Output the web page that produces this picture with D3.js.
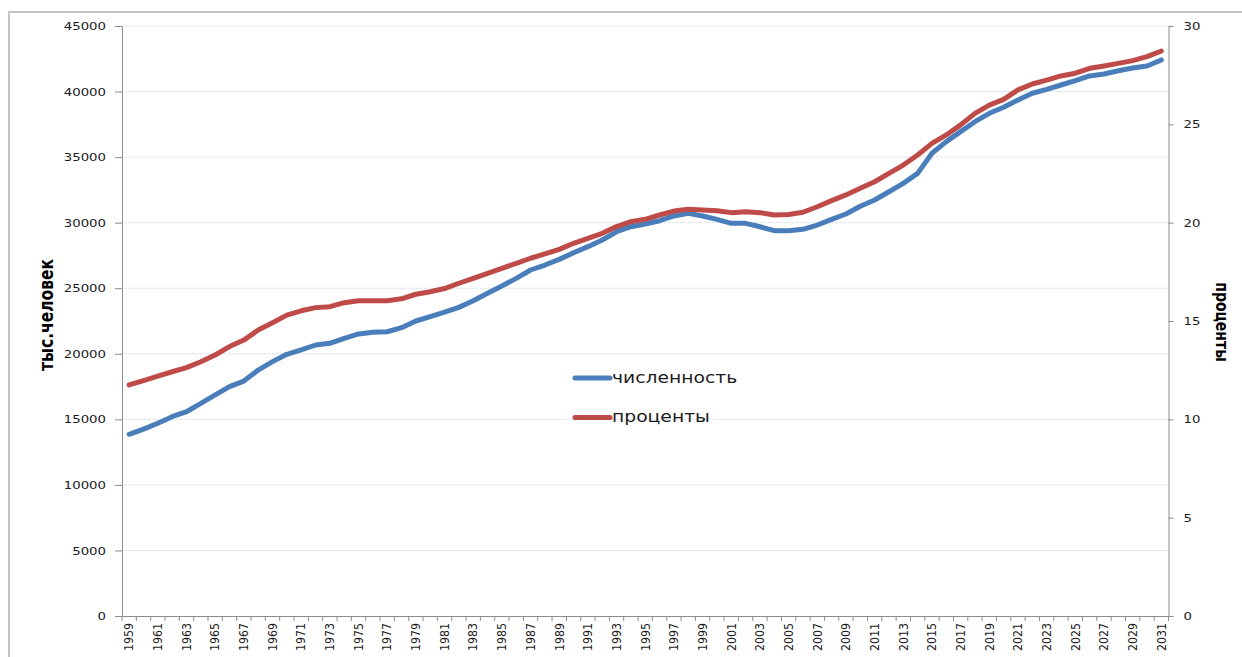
<!DOCTYPE html>
<html>
<head>
<meta charset="utf-8">
<script src="https://cdn.jsdelivr.net/npm/d3@7/dist/d3.min.js"></script>
<style>
  html, body { margin: 0; padding: 0; background: #fff; }
  svg { display: block; }
</style>
</head>
<body>
<script>
const years = d3.range(1959, 2032).map(String);
const population = [
  13860, 14250, 14700, 15200, 15580, 16220, 16860, 17490, 17920, 18760,
  19400, 19960, 20290, 20670, 20800, 21180, 21510, 21640, 21680, 21990,
  22500, 22830, 23170, 23540, 24050, 24610, 25170, 25750, 26390, 26770,
  27200, 27710, 28170, 28680, 29310, 29690, 29900, 30150, 30510, 30710,
  30510, 30250, 29950, 29950, 29690, 29390, 29390, 29490, 29820, 30250,
  30660, 31250, 31730, 32360, 33000, 33760, 35290, 36180, 36940, 37700,
  38340, 38800, 39360, 39870, 40170, 40500, 40830, 41190, 41340, 41590,
  41800, 41950, 42410
];
const percent = [
  11.75, 11.97, 12.2, 12.42, 12.63, 12.93, 13.27, 13.7, 14.03, 14.54,
  14.91, 15.3, 15.52, 15.68, 15.73, 15.93, 16.03, 16.03, 16.03, 16.13,
  16.36, 16.49, 16.65, 16.92, 17.17, 17.42, 17.68, 17.93, 18.19, 18.41,
  18.64, 18.95, 19.2, 19.46, 19.8, 20.05, 20.17, 20.39, 20.59, 20.68,
  20.64, 20.61, 20.51, 20.56, 20.51, 20.39, 20.42, 20.53, 20.81, 21.12,
  21.41, 21.75, 22.08, 22.51, 22.93, 23.44, 24.03, 24.46, 24.97, 25.56,
  25.98, 26.27, 26.75, 27.05, 27.25, 27.46, 27.6, 27.85, 27.97, 28.1,
  28.24, 28.44, 28.73
];
const leftTicks = [0, 5000, 10000, 15000, 20000, 25000, 30000, 35000, 40000, 45000];
const rightTicks = [0, 5, 10, 15, 20, 25, 30];
const yearLabels = years.filter((d, i) => i % 2 === 0);
const seriesNames = ["численность", "проценты"];
const leftTitle = "тыс.человек";
const rightTitle = "проценты";

const W = 1242, H = 657;
const L = 122, R = 1168.5, T = 26, B = 616;
const SX = 1.33;
const FONT = "'DejaVu Sans', Verdana, sans-serif";
const TXT = "#1b1b1b";
const AX = "#8c8c8c";

const svg = d3.select("body").append("svg").attr("width", W).attr("height", H)
  .style("font-family", FONT);

// frame
svg.append("rect").attr("x", 9).attr("y", 12).attr("width", 1400).attr("height", 800)
  .attr("fill", "none").attr("stroke", "#c4c4c4").attr("stroke-width", 2);

const x = d3.scaleBand().domain(years).range([L, R]).padding(0);
const yL = d3.scaleLinear().domain([0, 45000]).range([B, T]);
const yR = d3.scaleLinear().domain([0, 30]).range([B, T]);
const cx = d => x(d) + x.bandwidth() / 2;

// gridlines
svg.append("g").selectAll("line").data(leftTicks.filter(d => d > 0)).join("line")
  .attr("x1", L).attr("x2", R).attr("y1", d => yL(d)).attr("y2", d => yL(d))
  .attr("stroke", "#c9d6ec").attr("stroke-width", 1).attr("stroke-dasharray", "1,1");

// left axis
const gL = svg.append("g").attr("transform", `translate(${L},0)`)
  .call(d3.axisLeft(yL).tickValues(leftTicks).tickFormat(d3.format("d"))
    .tickSize(7).tickPadding(9).tickSizeOuter(0));
gL.select(".domain").attr("stroke", AX);
gL.selectAll(".tick line").attr("stroke", AX);
gL.selectAll(".tick text")
  .attr("font-size", 10).attr("fill", TXT).attr("font-family", FONT)
  .attr("x", -16 / SX).attr("dy", "0.36em")
  .attr("transform", `scale(${SX},1)`);

// right axis
const gR = svg.append("g").attr("transform", `translate(${R},0)`)
  .call(d3.axisRight(yR).tickValues(rightTicks).tickFormat(d3.format("d"))
    .tickSize(5).tickPadding(10).tickSizeOuter(0));
gR.select(".domain").attr("stroke", AX);
gR.selectAll(".tick line").attr("stroke", AX);
gR.selectAll(".tick text")
  .attr("font-size", 10).attr("fill", TXT).attr("font-family", FONT)
  .attr("x", 15 / SX).attr("dy", "0.36em")
  .attr("transform", `scale(${SX},1)`);

// bottom axis
const gB = svg.append("g").attr("transform", `translate(0,${B})`)
  .call(d3.axisBottom(x).tickValues(yearLabels).tickSize(0).tickPadding(0).tickSizeOuter(0));
gB.select(".domain").attr("stroke", AX);
gB.selectAll(".tick text")
  .attr("font-size", 11).attr("fill", TXT).attr("font-family", FONT)
  .attr("text-anchor", "end").attr("x", 0).attr("y", 0).attr("dy", 0)
  .attr("dominant-baseline", "central")
  .attr("transform", `translate(0,7) rotate(-90) scale(1,1.15)`);
// category boundary ticks
gB.append("g").selectAll("line").data(years.concat(["end"])).join("line")
  .attr("x1", d => d === "end" ? R : x(d)).attr("x2", d => d === "end" ? R : x(d))
  .attr("y1", 0).attr("y2", 5).attr("stroke", AX);

// lines
const linePop = d3.line().x((d, i) => cx(years[i])).y(d => yL(d));
const linePct = d3.line().x((d, i) => cx(years[i])).y(d => yR(d));
svg.append("path").datum(population).attr("d", linePop)
  .attr("fill", "none").attr("stroke", "#4a7ebb").attr("stroke-width", 5)
  .attr("stroke-linejoin", "round").attr("stroke-linecap", "round");
svg.append("path").datum(percent).attr("d", linePct)
  .attr("fill", "none").attr("stroke", "#be4b48").attr("stroke-width", 5)
  .attr("stroke-linejoin", "round").attr("stroke-linecap", "round");

// legend
const legColors = ["#4a7ebb", "#be4b48"];
const leg = svg.append("g");
seriesNames.forEach((n, i) => {
  const yy = 378 + i * 39.5;
  leg.append("line").attr("x1", 575).attr("x2", 610).attr("y1", yy).attr("y2", yy)
    .attr("stroke", legColors[i]).attr("stroke-width", 5).attr("stroke-linecap", "round");
  leg.append("text").attr("transform", `translate(612,${yy}) scale(1.25,1)`)
    .attr("dy", "0.32em").attr("font-size", 15).attr("fill", TXT).text(n);
});

// axis titles
svg.append("text").attr("transform", `translate(46,315) rotate(-90) scale(1,1.3)`)
  .attr("text-anchor", "middle").attr("dominant-baseline", "central")
  .attr("font-size", 15.5).attr("font-weight", "bold").attr("fill", "#000").text(leftTitle);
svg.append("text").attr("transform", `translate(1222,322) rotate(90) scale(1,1.3)`)
  .attr("text-anchor", "middle").attr("dominant-baseline", "central")
  .attr("font-size", 14).attr("font-weight", "bold").attr("fill", "#000").text(rightTitle);
</script>
</body>
</html>
